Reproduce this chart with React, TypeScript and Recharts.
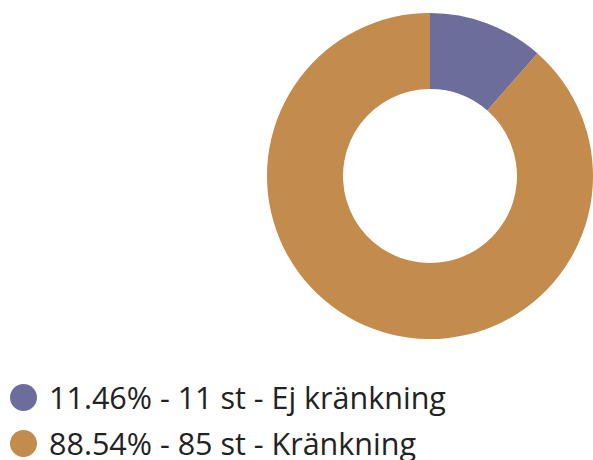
import { PieChart, Pie, Cell } from 'recharts'

const labels = ['Ej kränkning', 'Kränkning']
const counts = [11, 85]
const percents = [11.46, 88.54]
const colors = ['#6d6d9c', '#c38b4c']

const data = labels.map((name, i) => ({ name, value: counts[i], pct: percents[i] }))

export default function App() {
  return (
    <div style={{ position: 'absolute', top: 0, left: 0, width: 593, height: 460, background: '#fff', overflow: 'hidden' }}>
      <PieChart width={593} height={460} margin={{ top: 0, right: 0, bottom: 0, left: 0 }}>
        <Pie
          data={data}
          dataKey="value"
          nameKey="name"
          cx={430}
          cy={176}
          innerRadius={87}
          outerRadius={163}
          startAngle={90}
          endAngle={-270}
          stroke="none"
          isAnimationActive={false}
        >
          {data.map((d, i) => (
            <Cell key={d.name} fill={colors[i]} />
          ))}
        </Pie>
      </PieChart>
      <div
        style={{
          position: 'absolute',
          top: 374,
          left: 10,
          fontFamily: '"Open Sans", sans-serif',
          fontSize: 30.5,
          color: '#222',
          whiteSpace: 'nowrap',
        }}
      >
        {data.map((d, i) => (
          <div key={d.name} style={{ display: 'flex', alignItems: 'center', height: 46 }}>
            <span
              style={{
                display: 'inline-block',
                width: 27,
                height: 27,
                borderRadius: '50%',
                background: colors[i],
                marginRight: 12,
                flexShrink: 0,
              }}
            />
            <span>{`${d.pct.toFixed(2)}% - ${d.value} st - ${d.name}`}</span>
          </div>
        ))}
      </div>
    </div>
  )
}
